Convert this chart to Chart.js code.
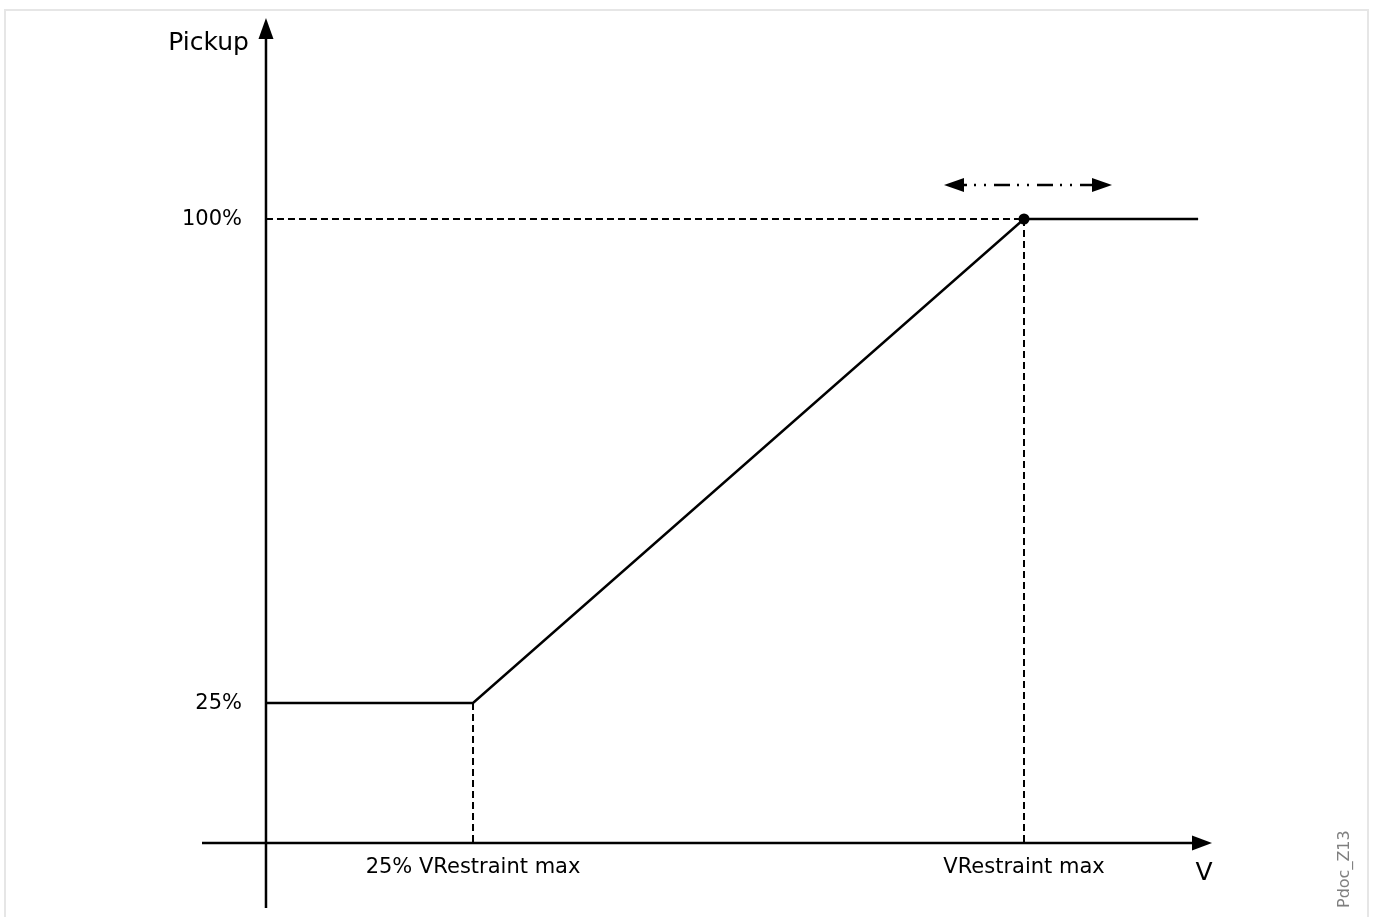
<!DOCTYPE html>
<html>
<head>
<meta charset="utf-8">
<script src="https://cdn.jsdelivr.net/npm/chart.js@4.4.1/dist/chart.umd.min.js"></script>
<style>
    html, body { margin: 0; padding: 0; background: #fff; overflow: hidden; }
    #wrap { position: relative; width: 1373px; height: 917px; }
</style>
</head>
<body>
<div id="wrap"><canvas id="pickupChart"></canvas></div>
<script>
// V axis in % of VRestraint max, pickup axis in %
const vMin = -11.89;
const vMax = 125.59;
const pickupMin = -6.77;
const pickupMax = 131.15;

const axisCrossV = -3.18;      // where the Pickup axis stands
const axisCrossPickup = 3.31;  // where the V axis runs

const curveV = [-3.18, 25, 100, 123.7];
const curvePickup = [25, 25, 100, 100];

const yTickValues = [25, 100];
const yTickLabels = ['25%', '100%'];
const xTickValues = [25, 100];
const xTickLabels = ['25% VRestraint max', 'VRestraint max'];

const rangeV = [89.11, 111.98];
const rangePickup = 105.27;

const FONT = "'DejaVu Sans', Verdana, sans-serif";

const toPoints = (xs, ys) => xs.map((x, i) => ({ x: x, y: ys[i] }));

function arrowHead(ctx, tipX, tipY, dirX, dirY, len, half) {
    // dir is a unit vector pointing toward the tip
    const bx = tipX - dirX * len;
    const by = tipY - dirY * len;
    ctx.beginPath();
    ctx.moveTo(tipX, tipY);
    ctx.lineTo(bx - dirY * half, by + dirX * half);
    ctx.lineTo(bx + dirY * half, by - dirX * half);
    ctx.closePath();
    ctx.fill();
}

const diagramPlugin = {
    id: 'diagram',
    beforeDatasetsDraw(chart) {
        const ctx = chart.ctx;
        const xs = chart.scales.x;
        const ys = chart.scales.y;
        const ox = xs.getPixelForValue(axisCrossV);
        const oy = ys.getPixelForValue(axisCrossPickup);

        ctx.save();
        // light frame
        ctx.strokeStyle = '#e6e6e6';
        ctx.lineWidth = 2;
        ctx.beginPath();
        ctx.moveTo(5, 917);
        ctx.lineTo(5, 10);
        ctx.lineTo(1368, 10);
        ctx.lineTo(1368, 917);
        ctx.stroke();

        // axes
        ctx.strokeStyle = '#000';
        ctx.fillStyle = '#000';
        ctx.lineWidth = 2.5;
        ctx.beginPath();
        ctx.moveTo(ox, chart.chartArea.bottom);
        ctx.lineTo(ox, chart.chartArea.top + 10);
        ctx.moveTo(chart.chartArea.left, oy);
        ctx.lineTo(chart.chartArea.right - 10, oy);
        ctx.stroke();
        arrowHead(ctx, ox, chart.chartArea.top, 0, -1, 21, 7.5);
        arrowHead(ctx, chart.chartArea.right, oy, 1, 0, 20, 7.5);

        // tick labels
        ctx.font = '21px ' + FONT;
        ctx.textAlign = 'right';
        ctx.textBaseline = 'middle';
        yTickValues.forEach((v, i) => {
            ctx.fillText(yTickLabels[i], ox - 24, ys.getPixelForValue(v) + 1);
        });
        ctx.textAlign = 'center';
        ctx.textBaseline = 'alphabetic';
        xTickValues.forEach((v, i) => {
            ctx.fillText(xTickLabels[i], xs.getPixelForValue(v), oy + 30);
        });

        // axis titles
        ctx.font = '25px ' + FONT;
        ctx.textAlign = 'right';
        ctx.fillText('Pickup', ox - 17, 50);
        ctx.textAlign = 'center';
        ctx.fillText('V', chart.chartArea.right - 8, oy + 37);

        // document tag
        ctx.fillStyle = '#7f7f7f';
        ctx.font = '16px ' + FONT;
        ctx.textAlign = 'left';
        ctx.translate(1349, 908);
        ctx.rotate(-Math.PI / 2);
        ctx.fillText('Pdoc_Z13', 0, 0);
        ctx.restore();
    },
    afterDatasetsDraw(chart) {
        // heads on the double arrow
        const meta = chart.getDatasetMeta(5);
        const pts = meta.data;
        const ctx = chart.ctx;
        ctx.save();
        ctx.fillStyle = '#000';
        arrowHead(ctx, pts[0].x, pts[0].y, -1, 0, 20, 7);
        arrowHead(ctx, pts[pts.length - 1].x, pts[pts.length - 1].y, 1, 0, 20, 7);
        ctx.restore();
    }
};

const ctx = document.getElementById('pickupChart').getContext('2d');

new Chart(ctx, {
    type: 'scatter',
    data: {
        datasets: [
            {
                label: 'Pickup',
                data: toPoints(curveV, curvePickup),
                showLine: true,
                borderColor: '#000',
                borderWidth: 2.5,
                pointRadius: 0,
                clip: false
            },
            {
                label: '100% guide',
                data: toPoints([axisCrossV, 100], [100, 100]),
                showLine: true,
                borderColor: '#000',
                borderWidth: 2,
                borderDash: [7, 4],
                pointRadius: 0,
                clip: false
            },
            {
                label: '25% guide',
                data: toPoints([25, 25], [25, axisCrossPickup]),
                showLine: true,
                borderColor: '#000',
                borderWidth: 2,
                borderDash: [7, 4],
                pointRadius: 0,
                clip: false
            },
            {
                label: 'max guide',
                data: toPoints([100, 100], [100, axisCrossPickup]),
                showLine: true,
                borderColor: '#000',
                borderWidth: 2,
                borderDash: [7, 4],
                pointRadius: 0,
                clip: false
            },
            {
                label: 'VRestraint max',
                data: toPoints([100], [100]),
                pointRadius: 5.5,
                pointBackgroundColor: '#000',
                pointBorderWidth: 0,
                order: -1,
                clip: false
            },
            {
                label: 'adjustable',
                data: toPoints(rangeV, [rangePickup, rangePickup]),
                showLine: true,
                borderColor: '#000',
                borderWidth: 2.5,
                borderDash: [16, 7, 2, 8, 2, 8],
                borderDashOffset: 36,
                pointRadius: 0,
                clip: false
            }
        ]
    },
    options: {
        responsive: true,
        maintainAspectRatio: false,
        animation: false,
        layout: {
            padding: { left: 202, right: 161, top: 18, bottom: 9 }
        },
        plugins: {
            legend: { display: false },
            tooltip: { enabled: false }
        },
        scales: {
            x: { type: 'linear', min: vMin, max: vMax, display: false },
            y: { type: 'linear', min: pickupMin, max: pickupMax, display: false }
        }
    },
    plugins: [diagramPlugin]
});
</script>
</body>
</html>
